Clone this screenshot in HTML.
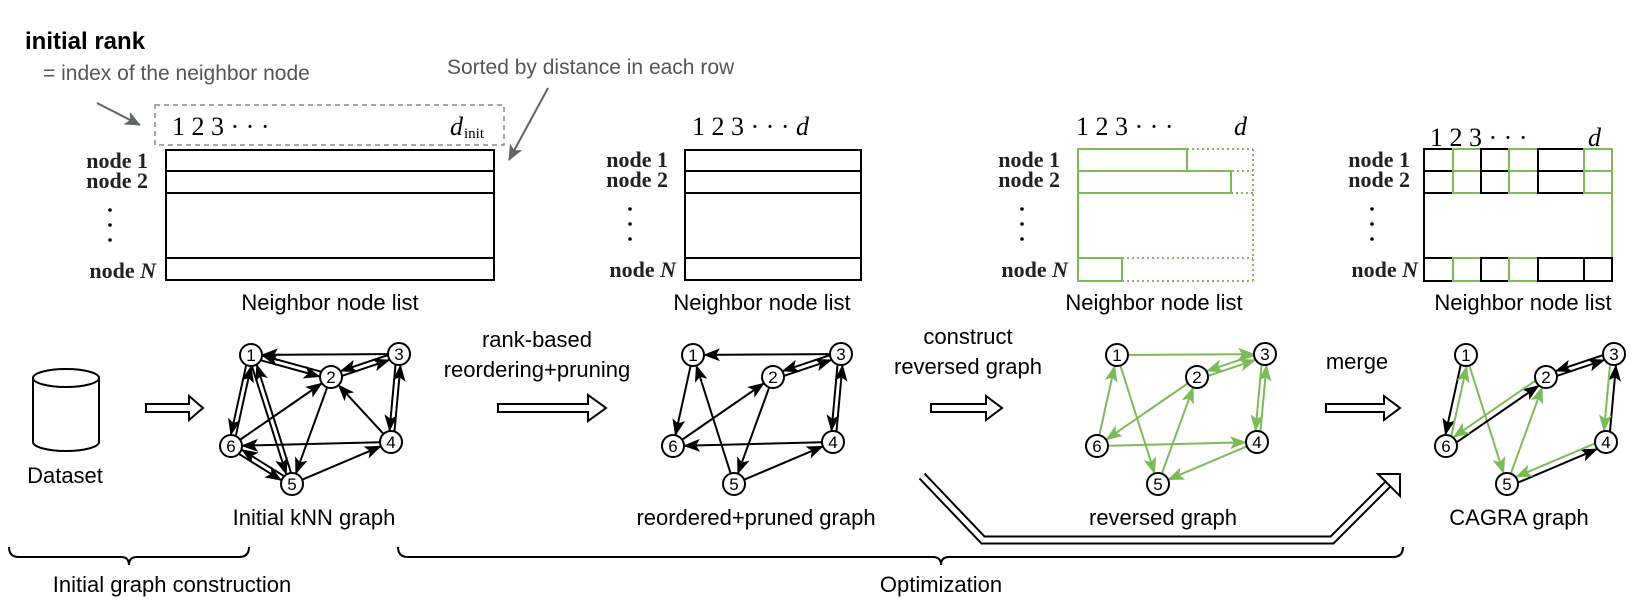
<!DOCTYPE html>
<html><head><meta charset="utf-8"><style>
html,body{margin:0;padding:0;background:#fff;}
svg{display:block;}
text{font-family:"Liberation Sans",sans-serif;}
.s{font-family:"Liberation Serif",serif;}
</style></head><body>
<svg id="svg" width="1644" height="608" viewBox="0 0 1644 608" xmlns="http://www.w3.org/2000/svg">
<defs>
<marker id="mb" markerUnits="userSpaceOnUse" markerWidth="17" markerHeight="14" refX="16" refY="6.5" orient="auto"><path d="M0,0 L17,6.5 L0,13 L4,6.5 z" fill="#000"/></marker>
<marker id="mg" markerUnits="userSpaceOnUse" markerWidth="17" markerHeight="14" refX="16" refY="6.5" orient="auto"><path d="M0,0 L17,6.5 L0,13 L4,6.5 z" fill="#7cbb5a"/></marker>
<marker id="ma" markerUnits="userSpaceOnUse" markerWidth="16" markerHeight="14" refX="15" refY="7" orient="auto"><path d="M0,0 L16,7 L0,14 L4,7 z" fill="#5f6563"/></marker>
</defs>

<text x="25" y="49" font-size="24" font-weight="bold">initial rank</text>
<text x="43" y="80" font-size="21" fill="#555">= index of the neighbor node</text>
<text x="447" y="74" font-size="21" fill="#555">Sorted by distance in each row</text>
<line x1="97" y1="103" x2="140" y2="125" stroke="#5f6563" stroke-width="2" marker-end="url(#ma)"/>
<line x1="548" y1="88" x2="509" y2="160" stroke="#5f6563" stroke-width="2" marker-end="url(#ma)"/>
<rect x="155" y="105" width="349" height="40" fill="none" stroke="#888" stroke-width="1.5" stroke-dasharray="5,4"/>

<g id="tables" stroke-width="2" fill="none"></g>

<text class="s" x="172" y="135" font-size="26">1 2 3 · · ·</text>
<text class="s" x="450" y="135" font-size="26" font-style="italic">d</text><text class="s" x="464" y="138" font-size="15">init</text>
<text class="s" x="692" y="135" font-size="26">1 2 3 · · · <tspan font-style="italic">d</tspan></text>
<text class="s" x="1076" y="135" font-size="26">1 2 3 · · ·</text><text class="s" x="1234" y="135" font-size="26" font-style="italic">d</text>
<text class="s" x="1430" y="146" font-size="26">1 2 3 · · ·</text><text class="s" x="1588" y="146" font-size="26" font-style="italic">d</text>

<g id="labels"></g>

<text x="330" y="310" font-size="22" text-anchor="middle">Neighbor node list</text>
<text x="762" y="310" font-size="22" text-anchor="middle">Neighbor node list</text>
<text x="1154" y="310" font-size="22" text-anchor="middle">Neighbor node list</text>
<text x="1523" y="310" font-size="22" text-anchor="middle">Neighbor node list</text>

<path d="M33,378 L33,442 A33,9 0 0 0 99,442 L99,378" fill="#fff" stroke="#000" stroke-width="2"/>
<ellipse cx="66" cy="378" rx="33" ry="9" fill="#fff" stroke="#000" stroke-width="2"/>
<text x="65" y="483" font-size="22" text-anchor="middle">Dataset</text>

<g fill="#fff" stroke="#000" stroke-width="2">
<path d="M146,404 L189,404 L189,396 L203,408 L189,420 L189,412 L146,412 z"/>
<path d="M498,404 L588,404 L588,395 L606,408 L588,421 L588,412 L498,412 z"/>
<path d="M931,404 L986,404 L986,396 L1002,408 L986,420 L986,412 L931,412 z"/>
<path d="M1326,404 L1384,404 L1384,396 L1400,408 L1384,420 L1384,412 L1326,412 z"/>
</g>
<text x="537" y="347" font-size="22" text-anchor="middle">rank-based</text>
<text x="537" y="377" font-size="22" text-anchor="middle">reordering+pruning</text>
<text x="968" y="344" font-size="22" text-anchor="middle">construct</text>
<text x="968" y="374" font-size="22" text-anchor="middle">reversed graph</text>
<text x="1357" y="369" font-size="22" text-anchor="middle">merge</text>

<polyline points="922,476 983,540 1332,540 1388,484" fill="none" stroke="#000" stroke-width="9"/>
<polyline points="922,476 983,540 1332,540 1388,484" fill="none" stroke="#fff" stroke-width="5"/>
<path d="M1378,474 L1400,474 L1400,496 z" fill="#fff" stroke="#000" stroke-width="2"/>

<g id="graphs"></g>

<text x="314" y="525" font-size="22" text-anchor="middle">Initial kNN graph</text>
<text x="756" y="525" font-size="22" text-anchor="middle">reordered+pruned graph</text>
<text x="1163" y="525" font-size="22" text-anchor="middle">reversed graph</text>
<text x="1519" y="525" font-size="22" text-anchor="middle">CAGRA graph</text>

<path d="M9,547 Q9,557 19,557 L121,557 Q129,557 129,565 Q129,557 137,557 L239,557 Q249,557 249,547" fill="none" stroke="#000" stroke-width="2"/>
<path d="M398,547 Q398,557 408,557 L933,557 Q941,557 941,565 Q941,557 949,557 L1393,557 Q1403,557 1403,547" fill="none" stroke="#000" stroke-width="2"/>
<text x="172" y="592" font-size="22" text-anchor="middle">Initial graph construction</text>
<text x="941" y="592" font-size="22" text-anchor="middle">Optimization</text>
</svg>
<script>
var NS="http://www.w3.org/2000/svg";
function el(p,t,a,txt){var e=document.createElementNS(NS,t);for(var k in a)e.setAttribute(k,a[k]);if(txt)e.textContent=txt;p.appendChild(e);return e;}
var T=document.getElementById('tables'),L=document.getElementById('labels'),G=document.getElementById('graphs');
var B="#000",GR="#7cbb5a";
function ln(x1,y1,x2,y2,c,dash){var a={x1:x1,y1:y1,x2:x2,y2:y2,stroke:c,'stroke-width':2};if(dash)a['stroke-dasharray']='2,3';el(T,'line',a);}
function rect(x,y,w,h,c){el(T,'rect',{x:x,y:y,width:w,height:h,stroke:c,fill:'none','stroke-width':2});}
[[166,494],[685,861]].forEach(function(t){rect(t[0],150,t[1]-t[0],130,B);[171,193,258].forEach(function(y){ln(t[0],y,t[1],y,B);});});
var x0=1078,xr=1253;
ln(x0,149,x0,281,GR);
rect(x0,149,1187-x0,22,GR);rect(x0,171,1231-x0,22,GR);rect(x0,258,1122-x0,23,GR);
ln(1187,149,xr,149,GR,1);ln(1187,171,xr,171,GR,1);ln(1231,193,xr,193,GR,1);
ln(1122,258,xr,258,GR,1);ln(1122,281,xr,281,GR,1);ln(xr,149,xr,281,GR,1);
var cols=[1424,1453,1481,1509,1538,1584,1612];
ln(1424,193,1424,258,B);ln(1612,193,1612,258,GR);
[[149,171],[171,193],[258,281]].forEach(function(r,ri){for(var i=0;i<6;i++){var c=(i%2==1)?GR:B;if(ri==2&&i==5)c=B;rect(cols[i],r[0],cols[i+1]-cols[i],r[1]-r[0],c);}});
[[148,0],[668,-1],[1060,-1],[1410,-1]].forEach(function(p){
 var xr=p[0];
 el(L,'text',{x:xr,y:168+p[1],'font-size':22,'text-anchor':'end','class':'s',fill:'#222','font-weight':'bold'},'node 1');
 el(L,'text',{x:xr,y:188+p[1],'font-size':22,'text-anchor':'end','class':'s',fill:'#222','font-weight':'bold'},'node 2');
 [210,225,240].forEach(function(y){el(L,'circle',{cx:xr-38,cy:y+p[1],r:1.8,fill:'#000'});});
 var t=el(L,'text',{x:xr+8,y:278+p[1],'font-size':22,'text-anchor':'end','class':'s',fill:'#222','font-weight':'bold'},'node ');
 el(t,'tspan',{'font-style':'italic'},'N');
});
var base={1:[251,355],2:[331,377],3:[399,354],4:[391,442],5:[292,484],6:[231,446]};
var R=11;
function edge(off,a,b,c,shift){
 var A=base[a],Bp=base[b];var x1=A[0]+off,y1=A[1],x2=Bp[0]+off,y2=Bp[1];
 var dx=x2-x1,dy=y2-y1,d=Math.sqrt(dx*dx+dy*dy),ux=dx/d,uy=dy/d,px=-uy*shift,py=ux*shift;
 el(G,'line',{x1:x1+ux*R+px,y1:y1+uy*R+py,x2:x2-ux*R+px,y2:y2-uy*R+py,stroke:c,'stroke-width':2,'marker-end':'url(#'+(c==B?'mb':'mg')+')'});
}
function dbl(off,a,b,c){edge(off,a,b,c,2.5);edge(off,b,a,c,2.5);}
function nodes(off){for(var k=1;k<=6;k++){var p=base[k];el(G,'circle',{cx:p[0]+off,cy:p[1],r:R,fill:'#fff',stroke:'#000','stroke-width':2});el(G,'text',{x:p[0]+off,y:p[1]+6,'font-size':17,'text-anchor':'middle'},String(k));}}
var o=0;
edge(o,3,1,B,0);dbl(o,1,2,B);dbl(o,2,3,B);dbl(o,1,6,B);dbl(o,1,5,B);dbl(o,3,4,B);
edge(o,6,2,B,0);edge(o,2,5,B,0);edge(o,4,2,B,0);edge(o,4,6,B,0);edge(o,5,4,B,0);dbl(o,6,5,B);
nodes(o);
o=442;
edge(o,3,1,B,0);dbl(o,2,3,B);edge(o,1,6,B,0);edge(o,5,1,B,0);edge(o,6,2,B,0);edge(o,2,5,B,0);edge(o,4,6,B,0);edge(o,5,4,B,0);dbl(o,3,4,B);
nodes(o);
o=866;
edge(o,1,3,GR,0);dbl(o,2,3,GR);edge(o,6,1,GR,0);edge(o,1,5,GR,0);edge(o,2,6,GR,0);edge(o,5,2,GR,0);edge(o,6,4,GR,0);edge(o,4,5,GR,0);dbl(o,3,4,GR);
nodes(o);
o=1215;
edge(o,1,6,B,3);edge(o,6,1,GR,3);edge(o,1,5,GR,0);edge(o,5,2,GR,0);edge(o,6,2,B,3);edge(o,2,6,GR,3);
dbl(o,2,3,B);edge(o,4,3,B,3);edge(o,3,4,GR,3);edge(o,5,4,B,3);edge(o,4,5,GR,3);
nodes(o);
</script>
</body></html>
